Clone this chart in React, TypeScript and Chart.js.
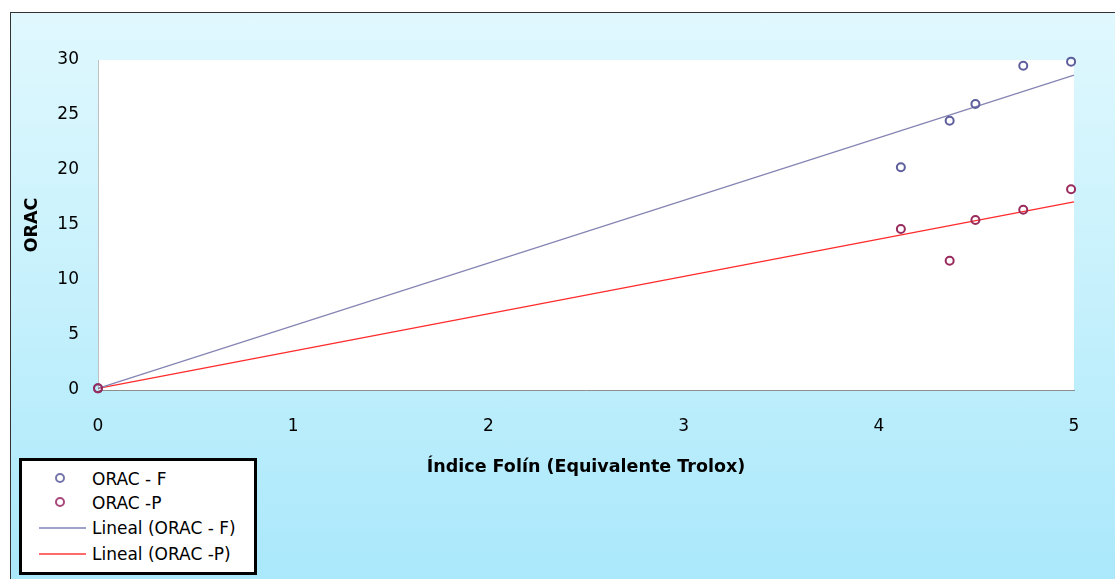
import React, { useEffect, useRef } from "react";
import { Chart, registerables } from "chart.js";

Chart.register(...registerables);

const xTitle = "Índice Folín (Equivalente Trolox)";
const yTitle = "ORAC";

const seriesNames = ["ORAC - F", "ORAC -P", "Lineal (ORAC - F)", "Lineal (ORAC -P)"];

const folinX = [0, 4.113, 4.363, 4.495, 4.74, 4.985];
const oracF = [0.15, 20.25, 24.48, 26.0, 29.48, 29.85];
const oracP = [0.15, 14.64, 11.75, 15.45, 16.38, 18.25];

const trendX = [0, 5];
const trendF = [0.15, 28.62];
const trendP = [0.15, 17.1];

const colF = "#5e5e9c";
const colP = "#982a5c";
const colTrendF = "#8484b4";
const colTrendP = "#ff2a2a";

const FONT = "'DejaVu Sans', sans-serif";

const toPts = (xs: number[], ys: number[]) => xs.map((x, i) => ({ x, y: ys[i] }));

const plotBg = {
  id: "plotBg",
  beforeDraw(chart: any) {
    const { ctx, chartArea } = chart;
    ctx.save();
    ctx.fillStyle = "#ffffff";
    ctx.fillRect(chartArea.left, chartArea.top, chartArea.right - chartArea.left, chartArea.bottom - chartArea.top);
    ctx.restore();
  },
};

export default function App() {
  const ref = useRef<HTMLCanvasElement | null>(null);
  useEffect(() => {
    if (!ref.current) return;
    const chart = new Chart(ref.current, {
      type: "scatter",
      data: {
        datasets: [
          {
            label: seriesNames[0],
            data: toPts(folinX, oracF),
            borderColor: colF,
            backgroundColor: "rgba(255,255,255,0)",
            pointRadius: 4,
            pointBorderWidth: 2,
            showLine: false,
            clip: false,
            order: 1,
          },
          {
            label: seriesNames[1],
            data: toPts(folinX, oracP),
            borderColor: colP,
            backgroundColor: "rgba(255,255,255,0)",
            pointRadius: 4,
            pointBorderWidth: 2,
            showLine: false,
            clip: false,
            order: 0,
          },
          {
            label: seriesNames[2],
            data: toPts(trendX, trendF),
            borderColor: colTrendF,
            borderWidth: 1.2,
            pointRadius: 0,
            showLine: true,
            clip: false,
            order: 2,
          },
          {
            label: seriesNames[3],
            data: toPts(trendX, trendP),
            borderColor: colTrendP,
            borderWidth: 1.2,
            pointRadius: 0,
            showLine: true,
            clip: false,
            order: 3,
          },
        ],
      },
      options: {
        animation: false,
        responsive: false,
        maintainAspectRatio: false,
        layout: { padding: { top: 60, right: 41, left: 0, bottom: 0 } },
        plugins: { legend: { display: false }, tooltip: { enabled: false } },
        scales: {
          x: {
            type: "linear",
            min: 0,
            max: 5,
            afterFit: (s: any) => {
              s.height = 189;
            },
            grid: { display: false, drawTicks: false },
            border: { color: "#8e8e8e", width: 1 },
            ticks: { stepSize: 1, padding: 26, color: "#000", font: { family: FONT, size: 17 } },
            title: {
              display: true,
              text: xTitle,
              color: "#000",
              font: { family: FONT, size: 17.5, weight: "bold" },
              padding: { top: 0, bottom: 101 },
            },
          },
          y: {
            type: "linear",
            min: 0,
            max: 30,
            afterFit: (s: any) => {
              s.width = 98;
            },
            grid: { display: false, drawTicks: false },
            border: { color: "#c0c0c0", width: 1 },
            ticks: { stepSize: 5, padding: 19, color: "#000", font: { family: FONT, size: 17 } },
            title: {
              display: true,
              text: yTitle,
              color: "#000",
              font: { family: FONT, size: 17.5, weight: "bold" },
              padding: { top: 22, bottom: 0 },
            },
          },
        },
      },
      plugins: [plotBg],
    });
    return () => chart.destroy();
  }, []);

  const legendRow = (top: number, kind: "pt" | "line", color: string, text: string) => (
    <div key={text} style={{ position: "absolute", left: 0, top, height: 24, width: 232 }}>
      {kind === "pt" ? (
        <div
          style={{
            position: "absolute",
            left: 33,
            top: 6,
            width: 10,
            height: 10,
            borderRadius: "50%",
            border: `2px solid ${color}`,
            boxSizing: "border-box",
          }}
        />
      ) : (
        <div
          style={{
            position: "absolute",
            left: 17,
            top: 11,
            width: 47,
            height: 2,
            backgroundColor: color,
          }}
        />
      )}
      <div
        style={{
          position: "absolute",
          left: 70,
          top: 0,
          lineHeight: "24px",
          fontFamily: FONT,
          fontSize: 17,
          color: "#000",
          whiteSpace: "nowrap",
        }}
      >
        {text}
      </div>
    </div>
  );

  return (
    <div style={{ position: "fixed", left: 0, top: 0, width: 1115, height: 579, overflow: "hidden", background: "#fff" }}>
      <div
        style={{
          position: "absolute",
          left: 10,
          top: 12,
          width: 1200,
          height: 700,
          borderLeft: "1.5px solid #333",
          borderTop: "1.5px solid #333",
          background: "linear-gradient(#e0f8fe 0px, #c4f0fc 300px, #aae8fb 567px)",
        }}
      />
      <canvas ref={ref} width={1115} height={579} style={{ position: "absolute", left: 0, top: 0 }} />
      <div
        style={{
          position: "absolute",
          left: 19,
          top: 458,
          width: 238,
          height: 117,
          border: "3px solid #000",
          boxSizing: "border-box",
          background: "#fff",
        }}
      >
        {legendRow(6, "pt", "#7474aa", seriesNames[0])}
        {legendRow(30, "pt", "#a8487a", seriesNames[1])}
        {legendRow(55, "line", "#a0a0cc", seriesNames[2])}
        {legendRow(81, "line", "#ff6a6a", seriesNames[3])}
      </div>
    </div>
  );
}
